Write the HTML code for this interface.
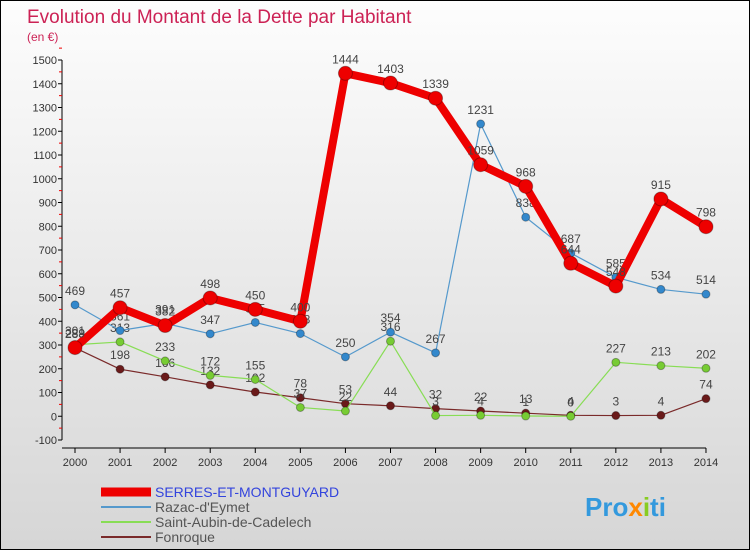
<!DOCTYPE html>
<html><head><meta charset="utf-8"><style>
body{margin:0;width:750px;height:550px;overflow:hidden;font-family:"Liberation Sans",sans-serif}
#wrap{position:relative;width:748px;height:548px;border:1px solid #000;background:linear-gradient(#fdfdfd,#d6d6d6)}
</style></head><body>
<div id="wrap">
<svg id="chart" width="748" height="548"></svg>
</div>
<script>
const years=[2000,2001,2002,2003,2004,2005,2006,2007,2008,2009,2010,2011,2012,2013,2014];
const serres=[289,457,382,498,450,400,1444,1403,1339,1059,968,644,548,915,798];
const razac=[469,361,391,347,395,348,250,354,267,1231,838,687,585,534,514];
const aubin=[301,313,233,172,155,37,22,316,3,4,1,0,227,213,202];
const fonroque=[288,198,166,132,102,78,53,44,32,22,13,4,3,4,74];
const yTicks=[-100,0,100,200,300,400,500,600,700,800,900,1000,1100,1200,1300,1400,1500];
const NS='http://www.w3.org/2000/svg';
const svg=document.getElementById('chart');
const X=i=>74+i*45.07;
const Y=v=>415.25-v*0.2375;
function mk(t,a,p){const e=document.createElementNS(NS,t);for(const k in a)e.setAttribute(k,a[k]);(p||svg).appendChild(e);return e;}
let t=mk('text',{x:26,y:22,fill:'#cc2255','font-size':19});t.textContent='Evolution du Montant de la Dette par Habitant';


t=mk('text',{x:26,y:40,fill:'#cc2255','font-size':12});t.textContent='(en €)';


const ax=mk('g',{});


mk('line',{x1:61,y1:Y(1500),x2:61,y2:Y(-100),stroke:'#000'},ax);
yTicks.forEach(v=>{mk('line',{x1:57,x2:61,y1:Y(v),y2:Y(v),stroke:'#000'},ax);
 mk('line',{x1:58,x2:61,y1:Y(v+50),y2:Y(v+50),stroke:'#e00'},ax);
 const l=mk('text',{x:56,y:Y(v)+4,'text-anchor':'end','font-size':11,fill:'#333'},ax);l.textContent=v;
 
 });
const xa=mk('g',{});


mk('line',{x1:61,y1:447,x2:X(14),y2:447,stroke:'#000'},xa);
years.forEach((y,i)=>{mk('line',{x1:X(i),x2:X(i),y1:447,y2:452,stroke:'#000'},xa);
 const l=mk('text',{x:X(i),y:465,'text-anchor':'middle','font-size':11,fill:'#333'},xa);l.textContent=y;
 
 });
function series(vals,color,w,r,name,dot){
 const g=mk('g',{});
 
 
 mk('polyline',{points:vals.map((v,i)=>X(i)+','+Y(v)).join(' '),fill:'none',stroke:color,'stroke-width':w,'stroke-linejoin':'round'},g);
 vals.forEach((v,i)=>{const c=mk('circle',{cx:X(i),cy:Y(v),r:r,fill:dot,stroke:'rgba(0,0,0,0.3)'},g);
  
  
  const l=mk('text',{x:X(i),y:Y(v)-10,'text-anchor':'middle','font-size':12,fill:'#444'},g);l.textContent=v;
  
  });
}
series(fonroque,'#7a2a2a',1.2,4,'series-fonroque','#6a1a1a');
series(aubin,'#88dd55',1.2,4,'series-saint-aubin','#77cc33');
series(razac,'#5599cc',1.2,4,'series-razac','#3388cc');
series(serres,'#ee0000',8,7,'series-serres','#ee0000');
const leg=[['SERRES-ET-MONTGUYARD','#ee0000',9],['Razac-d\'Eymet','#5599cc',2],['Saint-Aubin-de-Cadelech','#88dd55',2],['Fonroque','#7a2a2a',2]];
leg.forEach((e,i)=>{const g=mk('g',{});
 
 
 const y=491+i*15;
 mk('line',{x1:100,x2:150,y1:y,y2:y,stroke:e[1],'stroke-width':e[2]},g);
 const l=mk('text',{x:154,y:y+5,'font-size':14,fill:i==0?'#3344dd':'#555'},g);l.textContent=e[0];});
t=mk('text',{x:584,y:515,'font-size':26,'font-weight':'bold',fill:'#3399dd'});t.innerHTML='Pro<tspan fill="#ff8800">x</tspan><tspan fill="#88cc22">i</tspan>ti';


</script>
</body></html>
